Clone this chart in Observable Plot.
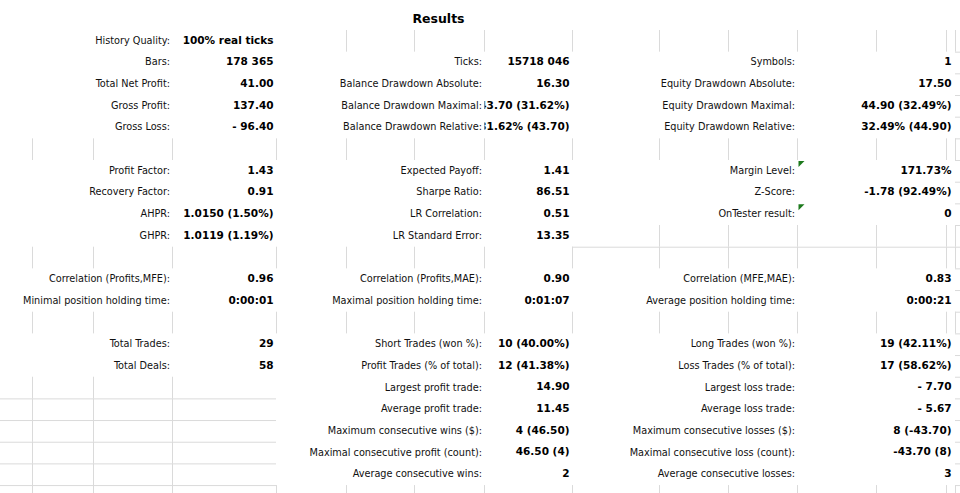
<!DOCTYPE html>
<html>
<head>
<meta charset="utf-8">
<script src="https://cdn.jsdelivr.net/npm/d3@7"></script>
<script src="https://cdn.jsdelivr.net/npm/@observablehq/plot@0.6"></script>
<style>
  html, body { margin: 0; padding: 0; background: #fff; overflow: hidden; }
  #chart svg { display: block; }
</style>
</head>
<body>
<div id="chart"></div>
<script>
// ---------- data (rows 1..21 under the title) ----------
const title = "Results";

const leftLabels = ["History Quality:", "Bars:", "Total Net Profit:", "Gross Profit:", "Gross Loss:", null,
  "Profit Factor:", "Recovery Factor:", "AHPR:", "GHPR:", null,
  "Correlation (Profits,MFE):", "Minimal position holding time:", null,
  "Total Trades:", "Total Deals:"];
const leftValues = ["100% real ticks", "178 365", "41.00", "137.40", "- 96.40", null,
  "1.43", "0.91", "1.0150 (1.50%)", "1.0119 (1.19%)", null,
  "0.96", "0:00:01", null,
  "29", "58"];

const midLabels = [null, "Ticks:", "Balance Drawdown Absolute:", "Balance Drawdown Maximal:", "Balance Drawdown Relative:", null,
  "Expected Payoff:", "Sharpe Ratio:", "LR Correlation:", "LR Standard Error:", null,
  "Correlation (Profits,MAE):", "Maximal position holding time:", null,
  "Short Trades (won %):", "Profit Trades (% of total):", "Largest profit trade:", "Average profit trade:",
  "Maximum consecutive wins ($):", "Maximal consecutive profit (count):", "Average consecutive wins:"];
const midValues = [null, "15718 046", "16.30", "43.70 (31.62%)", "31.62% (43.70)", null,
  "1.41", "86.51", "0.51", "13.35", null,
  "0.90", "0:01:07", null,
  "10 (40.00%)", "12 (41.38%)", "14.90", "11.45",
  "4 (46.50)", "46.50 (4)", "2"];

const rightLabels = [null, "Symbols:", "Equity Drawdown Absolute:", "Equity Drawdown Maximal:", "Equity Drawdown Relative:", null,
  "Margin Level:", "Z-Score:", "OnTester result:", null, null,
  "Correlation (MFE,MAE):", "Average position holding time:", null,
  "Long Trades (won %):", "Loss Trades (% of total):", "Largest loss trade:", "Average loss trade:",
  "Maximum consecutive losses ($):", "Maximal consecutive loss (count):", "Average consecutive losses:"];
const rightValues = [null, "1", "17.50", "44.90 (32.49%)", "32.49% (44.90)", null,
  "171.73%", "-1.78 (92.49%)", "0", null, null,
  "0.83", "0:00:21", null,
  "19 (42.11%)", "17 (58.62%)", "- 7.70", "- 5.67",
  "8 (-43.70)", "-43.70 (8)", "3"];

// cells carrying a green error indicator
const flagged = ["Margin Level:", "OnTester result:"];

// ---------- sheet layout (column edges in px, row grid) ----------
const colEdges = [0, 32, 93, 172, 276, 346, 414, 484, 572, 659, 728, 797, 876, 946, 955, 1020];
const nRows = 23;            // row 0 = title row, rows 1..22 below
const rowTop = 8.33, rowH = 21.67;

const blocks = [
  {labels: leftLabels,  values: leftValues,  c0: 0, labelEdge: 3,  c1: 4,  vdx: -3},
  {labels: midLabels,   values: midValues,   c0: 4, labelEdge: 7,  c1: 8,  vdx: -3},
  {labels: rightLabels, values: rightValues, c0: 8, labelEdge: 11, c1: 14, vdx: -4}
];
const titleSpan = [0, 12];

const xLayout = d3.scaleLinear(d3.range(colEdges.length), colEdges);

function filled(r, c) {
  if (r === 0) return true;
  const b = blocks.find(b => c >= b.c0 && c < b.c1);
  if (!b) return false;
  return b.labels[r - 1] != null;
}

const vSegs = [], hSegs = [];
for (let r = 0; r < nRows; r++) {
  for (let e = 1; e < colEdges.length - 1; e++) {
    if (!filled(r, e - 1) && !filled(r, e)) vSegs.push({x: e, y1: r, y2: r + 1});
  }
}
for (let r = 1; r < nRows; r++) {
  for (let c = 0; c < colEdges.length - 1; c++) {
    if (!filled(r - 1, c) && !filled(r, c)) hSegs.push({y: r, x1: c, x2: c + 1});
  }
}

const labelFont = '"DejaVu Sans Condensed", "DejaVu Sans", sans-serif';
const valueFont = '"DejaVu Sans", sans-serif';

const marks = [
  Plot.ruleX(vSegs, {x: "x", y1: "y1", y2: "y2", stroke: "#dadada", strokeWidth: 1}),
  Plot.ruleY(hSegs, {y: "y", x1: "x1", x2: "x2", stroke: "#dadada", strokeWidth: 1}),
  Plot.text([title], {
    x: xLayout.invert((xLayout(titleSpan[0]) + xLayout(titleSpan[1])) / 2),
    y: 0.5, text: d => d, dy: -0.5, fontFamily: valueFont, fontWeight: "bold", fontSize: 12.5, fill: "#000"
  })
];

blocks.forEach((b) => {
  const lab = b.labels.map((t, i) => ({t, r: i + 1})).filter(d => d.t != null);
  const val = b.values.map((t, i) => ({t, r: i + 1})).filter(d => d.t != null);
  marks.push(Plot.text(lab, {
    x: () => b.labelEdge, y: d => d.r + 0.5, text: "t", textAnchor: "end", dx: -2.5, dy: -1,
    fontFamily: labelFont, fontSize: 10.8, fill: "#111"
  }));
  marks.push(Plot.text(val, {
    x: () => b.c1, y: d => d.r + 0.5, text: "t", textAnchor: "end", dx: b.vdx, dy: -1,
    fontFamily: valueFont, fontWeight: "bold", fontSize: 10.5, fill: "#000"
  }));
});

const corner = {
  draw(ctx, size) {
    const s = 6;
    ctx.moveTo(0, 0); ctx.lineTo(s, 0); ctx.lineTo(0, s); ctx.closePath();
  }
};
const flagData = blocks.flatMap(b => b.labels.map((t, i) => ({t, r: i + 1, edge: b.labelEdge})))
  .filter(d => flagged.includes(d.t));
marks.push(Plot.dot(flagData, {
  x: "edge", y: "r", symbol: corner, r: 3, fill: "#1d7a1d", stroke: "none", dx: 1, dy: 0.5
}));

const svg = Plot.plot({
  width: 960, height: 493,
  marginTop: 0, marginRight: 0, marginBottom: 0, marginLeft: 0,
  x: {type: "linear", domain: d3.range(colEdges.length), range: colEdges, axis: null},
  y: {type: "linear", domain: [0, 1], range: [rowTop, rowTop + rowH], axis: null},
  style: {background: "#fff"},
  marks
});

// clip the middle value column at its cell's left edge (spreadsheet behaviour);
// the clip rect lives in the group's own space, which is shifted by the mark's dx
const midDx = blocks[1].vdx;
const sel = d3.select(svg);
sel.insert("defs", ":first-child").append("clipPath").attr("id", "midclip")
  .append("rect").attr("x", xLayout(7) - midDx).attr("y", 0)
  .attr("width", xLayout(8) - xLayout(7) + 4).attr("height", 493);
sel.selectAll('g[aria-label="text"]').filter(function () {
  return this.textContent.includes("(31.62%)");
}).attr("clip-path", "url(#midclip)");

document.getElementById("chart").appendChild(svg);
</script>
</body>
</html>
